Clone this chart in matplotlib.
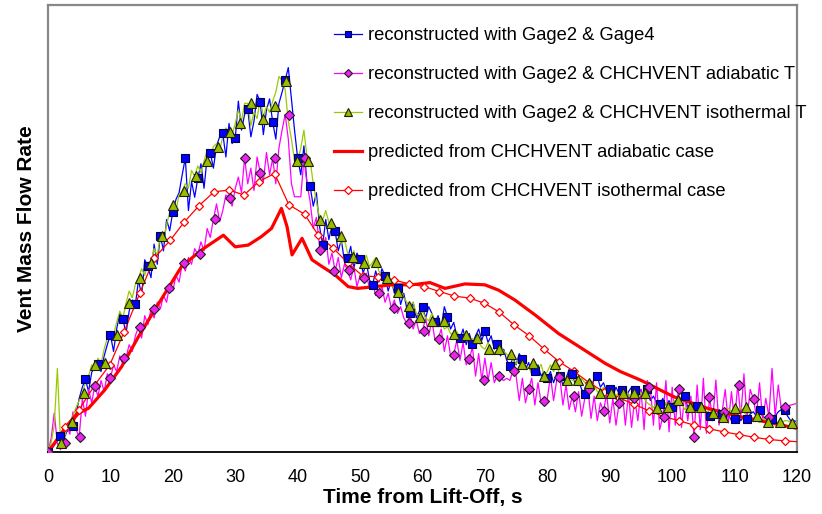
import numpy as np
import matplotlib
matplotlib.use("Agg")
import matplotlib.pyplot as plt
from matplotlib.lines import Line2D

plt.rcParams['font.family'] = ['Liberation Sans', 'DejaVu Sans']

# ---------------- data (arbitrary flow-rate units, 0..100) ----------------
t_dense = np.arange(0, 120.01, 0.5)

blue_dense = [
    0, 0.5, 1.5, 2.5, 3.6, 2.8, 4.5, 5.2, 5.8, 8.5, 12.0, 14.5, 16.3, 13.5, 17.8, 19.0, 19.7, 18.0, 21.5, 24.0,
    26.2, 22.5, 27.5, 31.0, 29.8, 26.5, 31.5, 34.0, 33.0, 38.5, 35.0, 43.0, 41.5, 39.0, 46.5, 42.0, 48.4, 45.0, 52.0, 49.5,
    53.8, 56.5, 58.0, 62.0, 65.8, 54.0, 60.5, 57.0, 61.2, 64.5, 59.0, 66.0, 67.0, 63.5, 68.5, 70.5, 71.3, 66.0, 73.5, 69.0,
    70.2, 78.5, 72.0, 75.5, 76.7, 70.5, 74.0, 80.0, 78.4, 71.0, 76.5, 79.0, 73.8, 70.0, 78.0, 80.5, 83.2, 86.0, 79.0, 72.0,
    65.7, 62.0, 68.5, 60.0, 59.4, 55.0, 58.0, 50.5, 46.3, 52.0, 47.5, 51.0, 49.4, 45.0, 47.5, 42.5, 43.3, 46.0, 41.0, 44.5,
    43.1, 40.0, 42.5, 38.5, 37.4, 40.5, 38.0, 41.0, 39.4, 36.0, 38.5, 35.5, 36.8, 33.0, 35.5, 32.0, 31.2, 33.5, 30.0, 31.5,
    32.4, 30.0, 32.5, 31.0, 29.0, 30.5, 28.0, 32.5, 30.3, 27.5, 29.0, 26.0, 25.4, 27.5, 24.0, 26.5, 24.2, 26.0, 27.5, 25.0,
    27.1, 24.5, 26.0, 23.0, 24.1, 21.5, 23.0, 20.5, 19.3, 21.0, 19.5, 22.0, 20.7, 18.5, 20.0, 17.5, 18.2, 19.5, 17.0, 18.0,
    16.5, 18.0, 15.5, 17.5, 17.1, 15.0, 16.5, 18.5, 17.4, 15.0, 16.0, 14.0, 13.0, 15.0, 14.0, 16.5, 16.9, 14.5, 15.5, 13.5,
    14.0, 12.5, 14.5, 13.0, 13.9, 12.0, 13.5, 14.5, 13.9, 12.5, 14.0, 12.0, 14.1, 11.5, 12.5, 11.0, 10.7, 12.0, 10.5, 11.5,
    10.0, 11.5, 10.5, 12.0, 12.5, 10.0, 11.0, 9.5, 10.3, 9.0, 9.5, 8.5, 8.1, 9.0, 8.0, 9.5, 8.4, 7.5, 8.5, 7.0,
    7.4, 8.5, 7.0, 8.0, 7.4, 8.5, 9.0, 8.0, 9.5, 8.0, 7.5, 8.5, 7.3, 8.0, 9.0, 9.5, 9.4, 8.0, 7.0, 7.0,
    6.8]

green_dense = [
    0, 2.0, 6.0, 18.7, 2.5, 3.0, 5.0, 6.6, 8.0, 10.0, 11.5, 13.3, 15.5, 17.0, 19.5, 18.5, 21.0, 19.8, 23.0, 25.5,
    27.0, 26.2, 29.0, 31.5, 30.0, 33.3, 36.0, 34.5, 37.5, 38.9, 41.0, 39.5, 42.5, 42.2, 45.5, 44.0, 48.3, 47.0, 51.0, 53.5,
    55.3, 54.0, 57.5, 58.4, 60.0, 59.0, 63.0, 61.7, 64.0, 62.5, 65.1, 67.5, 66.0, 68.3, 69.0, 67.5, 70.5, 72.5, 71.5, 71.0,
    73.5, 76.5, 74.0, 78.0, 78.0, 73.0, 76.0, 74.6, 79.0, 75.0, 77.3, 76.0, 78.5, 80.5, 84.0, 83.1, 81.0, 74.0, 70.0, 65.2,
    65.2, 68.0, 72.0, 66.0, 65.2, 60.0, 56.0, 52.5, 51.9, 54.0, 51.3, 49.0, 50.5, 48.4, 46.5, 47.5, 44.5, 43.7, 45.0, 42.5,
    43.5, 42.2, 44.0, 41.5, 42.4, 43.5, 40.5, 39.5, 38.9, 40.0, 37.5, 36.5, 35.9, 37.0, 34.5, 33.5, 32.7, 33.5, 31.0, 30.3,
    31.5, 30.0, 29.3, 31.0, 29.5, 28.0, 29.2, 27.5, 28.0, 26.5, 26.2, 27.0, 25.5, 26.2, 27.0, 25.0, 25.4, 24.0, 24.5, 23.5,
    23.0, 24.5, 23.0, 22.0, 23.0, 24.0, 22.5, 21.9, 21.0, 20.5, 19.7, 21.0, 19.8, 18.5, 19.0, 17.5, 17.1, 18.5, 19.6, 17.0,
    18.0, 19.5, 18.0, 19.6, 17.0, 16.5, 16.1, 17.5, 16.0, 16.1, 15.0, 16.5, 15.5, 15.5, 14.0, 15.0, 13.5, 13.3, 14.5, 13.5,
    13.3, 14.0, 12.5, 13.5, 13.3, 14.5, 12.5, 13.1, 14.0, 12.0, 13.3, 12.0, 11.0, 10.5, 9.9, 11.0, 10.5, 10.0, 11.0, 10.0,
    11.0, 11.6, 10.5, 11.0, 9.5, 10.0, 10.5, 9.0, 10.0, 9.5, 9.0, 8.7, 9.5, 8.5, 7.9, 8.5, 8.0, 9.0, 9.8, 9.0,
    9.8, 8.5, 10.0, 9.0, 8.0, 8.1, 7.5, 7.0, 6.6, 7.5, 7.0, 6.6, 6.5, 7.0, 6.5, 6.4, 7.0, 7.0, 6.6, 6.4,
    6.6]

magenta_dense = [
    0, 3.0, 8.7, 2.0, 0.5, 2.0, 6.0, 4.0, 9.0, 5.0, 3.4, 12.0, 8.0, 14.0, 11.0, 14.8, 12.5, 16.0, 13.5, 17.5,
    16.5, 19.5, 18.0, 21.5, 19.5, 21.1, 24.0, 22.5, 26.0, 28.0, 25.5, 30.5, 28.5, 32.0, 30.0, 33.5, 32.0, 35.0, 33.5, 37.5,
    36.0, 39.5, 38.0, 42.2, 40.5, 43.5, 42.0, 45.5, 44.2, 47.0, 45.0, 50.0, 48.0, 52.1, 55.5, 51.5, 54.0, 57.5, 56.9, 55.0,
    59.0, 61.5, 58.0, 65.8, 60.0, 63.5, 58.5, 66.0, 62.5, 60.5, 67.0, 62.0, 65.7, 60.0, 68.0, 72.0, 75.5, 70.0, 60.0, 57.1,
    57.1, 57.1, 65.7, 60.0, 56.0, 50.0, 52.5, 46.0, 45.2, 48.0, 42.0, 44.5, 40.5, 43.5, 39.0, 42.0, 40.7, 38.5, 41.5, 37.0,
    39.5, 38.9, 40.0, 36.5, 38.0, 35.0, 35.5, 37.0, 33.5, 35.5, 32.2, 34.0, 31.0, 32.5, 30.0, 28.8, 31.0, 27.5, 29.5, 26.5,
    27.1, 30.0, 26.0, 29.5, 25.0, 25.3, 27.5, 22.5, 26.0, 21.5, 21.8, 25.0, 20.5, 24.5, 19.5, 20.7, 23.5, 17.0, 22.0, 16.1,
    21.0, 16.0, 20.0, 15.5, 17.1, 16.5, 16.0, 16.5, 16.0, 18.2, 17.0, 11.5, 16.5, 11.0, 14.0, 16.5, 10.5, 15.5, 11.0, 11.3,
    12.0, 17.0, 11.5, 16.0, 16.7, 10.5, 15.0, 9.5, 12.5, 9.0, 13.5, 8.0, 12.0, 14.2, 7.5, 12.5, 7.0, 11.0, 9.2, 13.0,
    6.5, 12.0, 6.0, 10.9, 13.5, 6.0, 13.0, 5.5, 12.0, 7.0, 14.0, 5.0, 16.0, 14.5, 6.0, 15.5, 5.0, 7.9, 16.0, 4.5,
    14.5, 6.0, 14.2, 5.5, 13.0, 7.0, 12.5, 3.4, 15.0, 5.0, 16.5, 4.2, 12.2, 7.0, 16.1, 6.0, 9.0, 14.0, 6.5, 13.5,
    7.0, 15.0, 8.0, 17.5, 7.5, 14.0, 11.9, 8.0, 15.5, 7.0, 12.0, 7.9, 18.7, 8.0, 15.0, 9.5, 10.0, 10.3, 10.5, 10.7,
    10.9]

# marker samples
blue_mx = [0, 2, 4, 6, 8, 10, 12, 14, 16, 18, 20, 22, 24, 26, 28, 30, 32, 34, 36, 38,
           40, 42, 44, 46, 48, 50, 52, 54, 56, 58, 60, 62, 64, 66, 68, 70, 72, 74, 76, 78,
           80, 82, 84, 86, 88, 90, 92, 94, 96, 98, 100, 102, 104, 106, 108, 110, 112, 114, 116, 118]
blue_my = [0, 3.6, 5.8, 16.3, 19.7, 26.2, 29.8, 33.0, 41.5, 48.4, 53.8, 65.8, 61.2, 67.0, 71.3, 70.2, 76.7, 78.4, 73.8, 83.2,
           65.7, 59.4, 46.3, 49.4, 43.3, 43.1, 37.4, 39.4, 36.8, 31.2, 32.4, 29.0, 30.3, 25.4, 24.2, 27.1, 24.1, 19.3, 20.7, 18.2,
           16.5, 17.1, 17.4, 13.0, 16.9, 14.0, 13.9, 13.9, 14.1, 10.7, 10.0, 12.5, 10.3, 8.1, 8.4, 7.4, 7.4, 9.5, 7.3, 9.4]

green_mx = [2.1, 3.9, 5.7, 7.5, 9.1, 11.0, 12.9, 14.7, 16.5, 18.2, 20.1, 21.8, 23.7, 25.5, 27.3, 29.1, 30.8, 32.6, 34.5, 36.4,
            38.2, 39.9, 41.6, 43.5, 45.3, 47.0, 48.9, 50.7, 52.5, 54.3, 56.0, 57.9, 59.6, 61.5, 63.4, 65.1, 66.9, 68.7, 70.6, 72.3,
            74.1, 75.9, 77.7, 79.4, 81.3, 83.1, 84.9, 86.7, 88.5, 90.2, 92.1, 93.9, 95.7, 97.5, 99.3, 101.0, 102.8, 104.6, 106.5, 108.2,
            110.1, 111.8, 113.6, 115.4, 117.3, 119.2]
green_my = [2.1, 6.6, 13.3, 19.5, 19.8, 26.2, 33.3, 38.9, 42.2, 48.3, 55.3, 58.4, 61.7, 65.1, 68.3, 71.5, 73.5, 78.0, 74.6, 77.3,
            83.1, 65.2, 65.2, 51.9, 51.3, 48.4, 43.7, 42.2, 42.4, 38.9, 35.9, 32.7, 30.3, 29.3, 29.2, 26.5, 26.2, 25.4, 23.0, 23.0,
            21.9, 19.7, 19.8, 17.1, 19.6, 16.1, 16.1, 15.5, 13.3, 13.3, 13.3, 13.1, 13.3, 9.9, 10.0, 11.6, 10.0, 10.0, 8.7, 7.9,
            9.8, 10.0, 8.1, 6.6, 6.6, 6.4]

magenta_mx = [0, 2.7, 5.1, 7.5, 9.9, 12.2, 14.7, 17.0, 19.4, 21.8, 24.3, 26.7, 29.1, 31.5, 33.9, 36.3, 38.6, 41.1, 43.5, 45.9,
              48.3, 50.7, 53.1, 55.5, 57.8, 60.3, 62.7, 65.1, 67.5, 69.9, 72.3, 74.7, 77.1, 79.5, 81.9, 84.2, 86.7, 89.0, 91.5, 93.9,
              96.3, 98.7, 101.1, 103.5, 105.9, 108.3, 110.7, 113.1, 115.5, 118.0]
magenta_my = [0, 2.1, 3.4, 14.8, 16.5, 21.1, 28.0, 32.0, 36.8, 42.2, 44.2, 52.1, 56.9, 65.8, 62.5, 65.7, 75.5, 65.7, 45.2, 40.5,
              40.7, 38.9, 35.5, 32.2, 28.8, 27.1, 25.3, 21.8, 20.7, 16.1, 17.1, 18.2, 14.0, 11.3, 16.7, 12.5, 14.2, 9.2, 10.9, 12.0,
              14.5, 7.9, 14.2, 3.4, 12.2, 9.0, 15.0, 11.9, 7.9, 10.0]

adia_x = [0, 2.2, 4.9, 6.5, 9.1, 11.8, 14.5, 17.1, 21.4, 24.6, 28.1, 29.4, 30.0, 32.1, 34.2, 35.8, 37.4, 38.3, 39.1, 40.7,
          42.3, 43.9, 46.0, 48.1, 49.6, 52.4, 55.1, 58.3, 61.2, 63.6, 66.8, 70.0, 72.2, 74.8, 78.1, 81.8, 85.5, 89.3, 91.7, 94.9,
          100.2, 105.6, 110.9, 116.2, 120]
adia_y = [0, 4.2, 8.7, 9.8, 13.9, 19.1, 25.8, 31.8, 41.5, 45.2, 48.5, 46.7, 45.9, 46.3, 48.2, 50.0, 54.5, 50.4, 44.1, 47.8,
          43.0, 41.5, 39.6, 37.0, 36.6, 37.0, 37.4, 37.4, 37.9, 36.6, 37.6, 37.4, 36.2, 34.0, 30.6, 26.5, 23.2, 19.8, 18.0, 16.1,
          12.4, 9.8, 7.9, 6.4, 5.3]

iso_x = [0, 2.7, 5.0, 7.5, 9.9, 12.2, 14.7, 17.0, 19.6, 21.8, 24.2, 26.6, 29.0, 31.4, 33.8, 36.3, 38.6, 41.1, 43.3, 45.7,
         48.1, 50.4, 52.9, 55.4, 57.9, 60.3, 62.7, 65.1, 67.6, 69.9, 72.3, 74.7, 77.1, 79.5, 81.9, 84.2, 86.7, 89.0, 91.5, 93.9,
         96.3, 98.7, 101.1, 103.5, 105.9, 108.3, 110.7, 113.1, 115.5, 118.0, 120]
iso_y = [0, 5.7, 9.5, 15.0, 19.5, 26.9, 35.5, 43.3, 47.4, 51.4, 55.1, 58.2, 58.6, 57.5, 60.5, 62.3, 55.3, 53.2, 48.5, 45.6,
         42.2, 39.4, 39.2, 38.5, 37.6, 37.0, 35.9, 34.9, 34.4, 33.3, 31.3, 28.4, 26.0, 23.0, 20.2, 18.1, 15.5, 13.5, 12.1, 10.7,
         9.2, 7.9, 7.0, 6.0, 5.2, 4.5, 3.9, 3.3, 2.8, 2.5, 2.3]

labels = ["reconstructed with Gage2 & Gage4",
          "reconstructed with Gage2 & CHCHVENT adiabatic T",
          "reconstructed with Gage2 & CHCHVENT isothermal T",
          "predicted from CHCHVENT adiabatic case",
          "predicted from CHCHVENT isothermal case"]
xticks = [0, 10, 20, 30, 40, 50, 60, 70, 80, 90, 100, 110, 120]

# ---------------- styles ----------------
c_blue = '#0000FF'
c_mag = '#FF00FF'
c_green = '#99CC00'
c_red = '#FF0000'

fig = plt.figure(figsize=(8.22, 5.14), dpi=100)
ax = fig.add_axes([48/822, 1-452/514, (797-48)/822, (452-5)/514])

ax.plot(t_dense, blue_dense, color=c_blue, lw=0.9, zorder=2)
ax.plot(t_dense, magenta_dense, color=c_mag, lw=0.9, zorder=2)
ax.plot(t_dense, green_dense, color=c_green, lw=0.9, zorder=2)
ax.plot(adia_x, adia_y, color=c_red, lw=2.3, zorder=3)
ax.plot(iso_x, iso_y, color=c_red, lw=0.9, marker='D', ms=4.5, mfc='white', mec=c_red, mew=0.9,
        markevery=list(range(len(iso_x) - 1)), zorder=3)

ax.plot(blue_mx, blue_my, ls='none', marker='s', ms=6.3, mfc=c_blue, mec='#000040', mew=0.8, zorder=4)
ax.plot(magenta_mx, magenta_my, ls='none', marker='D', ms=5.0, mfc='#EE22EE', mec='#202020', mew=0.8, zorder=4)
ax.plot(green_mx, green_my, ls='none', marker='^', ms=7.0, mfc='#99BB00', mec='#202000', mew=0.8, zorder=4)

ax.set_xlim(0, 120)
ax.set_ylim(0, 100)
ax.set_xticks(xticks)
ax.set_xticklabels([str(v) for v in xticks], fontsize=13)
ax.set_yticks([])
ax.tick_params(axis='x', length=0, pad=12)

for side in ['left', 'top', 'right']:
    ax.spines[side].set_color('#888888')
    ax.spines[side].set_linewidth(1.6)
ax.spines['bottom'].set_color('black')
ax.spines['bottom'].set_linewidth(1.3)

ax.set_xlabel("Time from Lift-Off, s", fontsize=15, fontweight='bold', labelpad=2)
ax.set_ylabel("Vent Mass Flow Rate", fontsize=15, fontweight='bold', labelpad=9)

handles = [
    Line2D([], [], color=c_blue, lw=0.9, marker='s', ms=5, mfc=c_blue, mec='#000040', mew=0.8),
    Line2D([], [], color=c_mag, lw=0.9, marker='D', ms=4, mfc='#EE22EE', mec='#202020', mew=0.8),
    Line2D([], [], color=c_green, lw=0.9, marker='^', ms=5.5, mfc='#99BB00', mec='#202000', mew=0.8),
    Line2D([], [], color=c_red, lw=2.3),
    Line2D([], [], color=c_red, lw=0.9, marker='D', ms=4, mfc='white', mec=c_red, mew=0.9),
]
leg = fig.legend(handles, labels, loc='upper left', bbox_to_anchor=(334/822, 1-27/514),
                 frameon=False, fontsize=13.2, handlelength=1.55, handletextpad=0.3,
                 labelspacing=1.2, borderpad=0, borderaxespad=0)

fig.savefig('out.png', dpi=100, facecolor='white')
